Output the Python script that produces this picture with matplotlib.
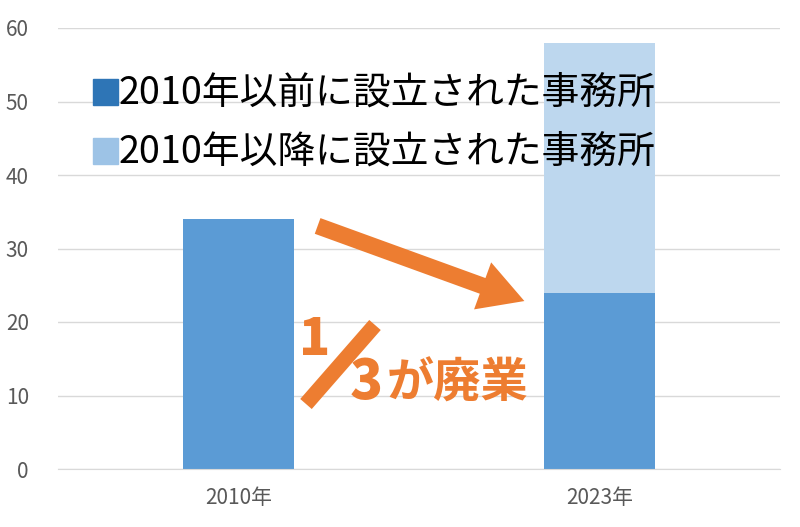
import matplotlib
matplotlib.use("Agg")
import matplotlib.pyplot as plt
from matplotlib.patches import FancyArrowPatch, Rectangle
from matplotlib.lines import Line2D

plt.rcParams['font.family'] = ['Noto Sans CJK JP', 'DejaVu Sans']

# --- data ---
categories = ["2010年", "2023年"]
before_2010 = [34, 24]
after_2010 = [0, 34]
legend_labels = ["2010年以前に設立された事務所", "2010年以降に設立された事務所"]
y_ticks = [0, 10, 20, 30, 40, 50, 60]

bar_dark = "#5B9BD5"
bar_light = "#BDD7EE"
leg_dark = "#2E75B6"
leg_light = "#9DC3E6"
orange = "#ED7D31"
grid_c = "#D9D9D9"

fig = plt.figure(figsize=(8, 5.27), dpi=100)
ax = fig.add_axes([58 / 800, 1 - 469 / 527, 722 / 800, 441 / 527])

x = list(range(len(categories)))
ax.bar(x, before_2010, width=0.305, color=bar_dark, zorder=2)
ax.bar(x, after_2010, width=0.305, bottom=before_2010, color=bar_light, zorder=2)

ax.set_xlim(-0.5, 1.5)
ax.set_ylim(0, 60)
ax.set_yticks(y_ticks)
ax.set_xticks(x)
ax.set_xticklabels(categories)
ax.yaxis.grid(True, color=grid_c, lw=1, zorder=0)
ax.set_axisbelow(True)
for s in ["top", "right", "left"]:
    ax.spines[s].set_visible(False)
ax.spines["bottom"].set_color(grid_c)
ax.tick_params(length=0, colors="#595959", labelsize=15)
ax.tick_params(axis="y", pad=21)
ax.tick_params(axis="x", pad=13)

# --- manual legend ---
def px(xp, yp):
    return xp / 800, 1 - yp / 527

for i, (lab, c) in enumerate(zip(legend_labels, [leg_dark, leg_light])):
    yc = 92 + i * 59
    x0, y0 = px(93, yc + 13)
    fig.patches.append(Rectangle((x0, y0), 25 / 800, 26 / 527, color=c,
                                 transform=fig.transFigure, figure=fig))
    tx, ty = px(119, yc + 1)
    fig.text(tx, ty, lab, fontsize=27.2, va="center", ha="left", color="black")

# --- annotation ---
t1 = px(315, 225)
t2 = px(527, 302)
arrow = FancyArrowPatch(t1, t2, transform=fig.transFigure,
                        arrowstyle="simple,head_width=36,head_length=32,tail_width=12",
                        mutation_scale=1, color=orange, lw=0)
fig.patches.append(arrow)

# fraction 1/3 drawn as "1", a slash bar and "3"
fx, fy = px(315, 340)
fig.text(fx, fy, "1", fontsize=37, fontweight="black", color=orange, ha="center", va="center")
s0 = px(306, 404)
s1 = px(375, 325)
fig.lines.append(Line2D([s0[0], s1[0]], [s0[1], s1[1]], transform=fig.transFigure,
                        color=orange, lw=11, solid_capstyle="butt"))
fx, fy = px(366, 383)
fig.text(fx, fy, "3", fontsize=39, fontweight="black", color=orange, ha="center", va="center")
fx, fy = px(387, 384)
fig.text(fx, fy, "が廃業", fontsize=34, fontweight="bold", color=orange, ha="left", va="center")

fig.savefig("out.png", dpi=100)
